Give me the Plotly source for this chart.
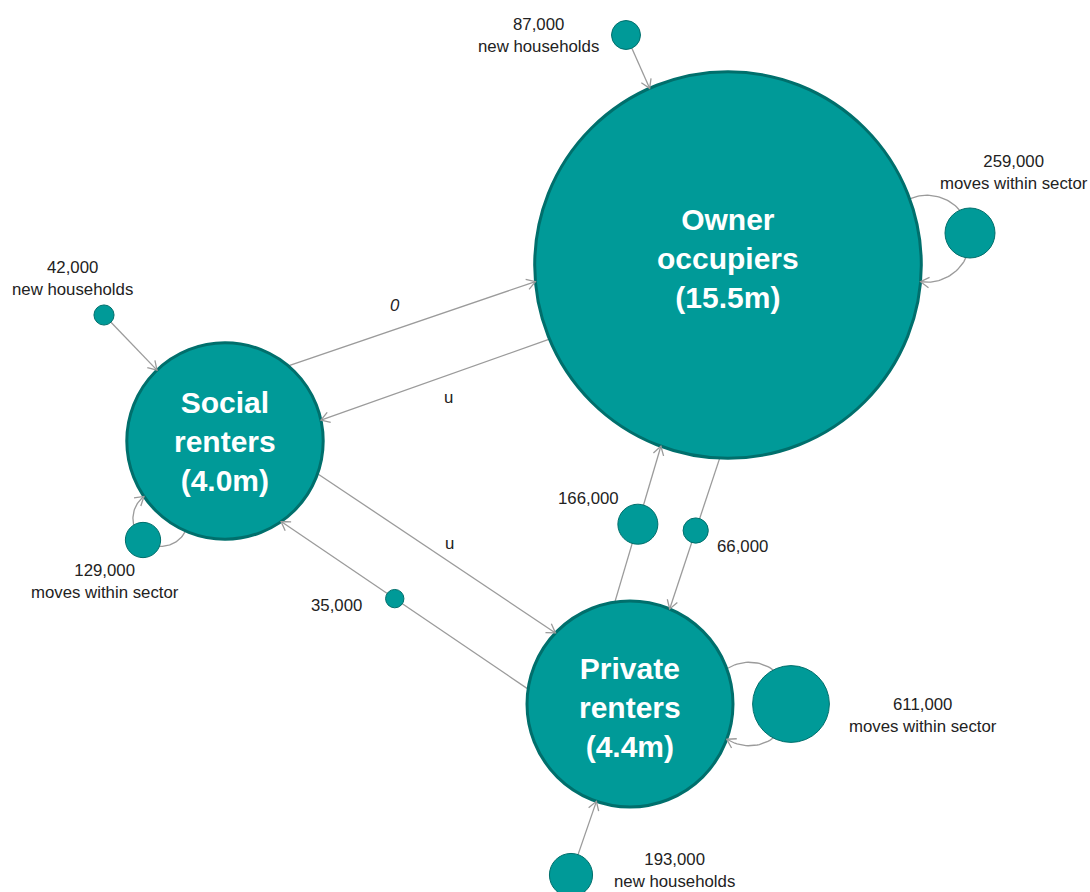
import numpy as np
import plotly.graph_objects as go

# ---------------- data ----------------
sectors = ["Owner occupiers", "Social renters", "Private renters"]
sector_names = ["Owner<br>occupiers", "Social<br>renters", "Private<br>renters"]
households_m = [15.5, 4.0, 4.4]            # households in each sector (millions)
new_households = [87000, 42000, 193000]     # new households entering each sector
moves_within = [259000, 129000, 611000]     # moves within each sector

flow_from = ["Social renters", "Owner occupiers", "Social renters",
             "Private renters", "Private renters", "Owner occupiers"]
flow_to = ["Owner occupiers", "Social renters", "Private renters",
           "Social renters", "Owner occupiers", "Private renters"]
flow_values = [0, None, None, 35000, 166000, 66000]   # None = unreliable ("u")
flow_labels = ["0", "u", "u", "35,000", "166,000", "66,000"]

# ---------------- layout (positions / styles) ----------------
W, H = 1090, 892
K = 0.0491  # px radius per sqrt(household)
node_center = {"Owner occupiers": (728, 265), "Social renters": (225, 441),
               "Private renters": (630, 704)}
node_label_dy = {"Owner occupiers": -7, "Social renters": 0, "Private renters": 3}
new_center = [(626, 35), (104, 315), (571, 875)]
new_label_pos = [(538, 35), (72, 278), (674, 870)]
moves_center = [(970, 233), (143, 540), (791, 704)]
moves_label_pos = [(1014, 172), (105, 581), (923, 715)]
loop_delta = [12.5, 16, 20]  # degrees either side of loop direction
edge_offsets = [(-50, -48), (-11, -12), (-23, -19), (-43, -37), (-37, -26), (-34, -18)]
edge_t = [0.5, 0.5, 0.5, 0.54, 0.5, 0.48]
flow_label_pos = [(395, 305), (448, 397), (449, 543), (336, 605), (588, 498), (742, 546)]

TEAL = "#009a98"
TEAL_DARK = "#006f6c"
GREY = "#9b9b9b"
FONT = "Arial, Liberation Sans, sans-serif"
FS = 16.8

radius = {s: K * np.sqrt(v * 1e6) for s, v in zip(sectors, households_m)}


def r_of(v):
    return K * np.sqrt(v)


line_x, line_y = [], []
head_x, head_y = [], []


def add_line(pts):
    for p in pts:
        line_x.append(p[0]); line_y.append(p[1])
    line_x.append(None); line_y.append(None)


def add_head(tip, d, L=10, ang=32):
    d = np.array(d, float); d = d / np.linalg.norm(d)
    for sgn in (1, -1):
        a = np.radians(ang * sgn)
        rot = np.array([d[0] * np.cos(a) - d[1] * np.sin(a), d[0] * np.sin(a) + d[1] * np.cos(a)])
        w = np.array(tip) - L * rot
        head_x.extend([w[0], tip[0]]); head_y.extend([w[1], tip[1]])
    head_x.append(None); head_y.append(None)


# cross-sector flows
flow_pts = []
for f, t, (os_, oe), tt in zip(flow_from, flow_to, edge_offsets, edge_t):
    c1 = np.array(node_center[f], float); c2 = np.array(node_center[t], float)
    u = (c2 - c1) / np.linalg.norm(c2 - c1)
    n = np.array([-u[1], u[0]])
    p1 = c1 + n * os_ + u * np.sqrt(radius[f] ** 2 - os_ ** 2)
    p2 = c2 + n * oe - u * np.sqrt(radius[t] ** 2 - oe ** 2)
    add_line([p1, p2])
    add_head(p2, p2 - p1)
    flow_pts.append(p1 + (p2 - p1) * tt)

# new households arrows
for s, c, v in zip(sectors, new_center, new_households):
    c1 = np.array(c, float); c2 = np.array(node_center[s], float)
    u = (c2 - c1) / np.linalg.norm(c2 - c1)
    p1 = c1 + u * r_of(v)
    p2 = c2 - u * radius[s]
    add_line([p1, p2])
    add_head(p2, u)

# self loops (circular arc through start, small circle centre, end)
for s, c, dl in zip(sectors, moves_center, loop_delta):
    C = np.array(node_center[s], float); P = np.array(c, float)
    th = np.arctan2(P[1] - C[1], P[0] - C[0])
    S = C + radius[s] * np.array([np.cos(th - np.radians(dl)), np.sin(th - np.radians(dl))])
    E = C + radius[s] * np.array([np.cos(th + np.radians(dl)), np.sin(th + np.radians(dl))])
    A = np.array([[2 * (P[0] - S[0]), 2 * (P[1] - S[1])], [2 * (E[0] - S[0]), 2 * (E[1] - S[1])]])
    b = np.array([P @ P - S @ S, E @ E - S @ S])
    O = np.linalg.solve(A, b)
    R = np.linalg.norm(S - O)
    aS = np.arctan2(S[1] - O[1], S[0] - O[0])
    aP = np.arctan2(P[1] - O[1], P[0] - O[0])
    aE = np.arctan2(E[1] - O[1], E[0] - O[0])
    ccw_E = (aE - aS) % (2 * np.pi); ccw_P = (aP - aS) % (2 * np.pi)
    if ccw_P < ccw_E:
        angs = aS + np.linspace(0, ccw_E, 80)
    else:
        angs = aS - np.linspace(0, 2 * np.pi - ccw_E, 80)
    pts = [O + R * np.array([np.cos(a), np.sin(a)]) for a in angs]
    add_line(pts)
    add_head(pts[-1], pts[-1] - pts[-3])

fig = go.Figure()
fig.add_trace(go.Scatter(x=line_x, y=line_y, mode="lines",
                         line=dict(color=GREY, width=1.3), hoverinfo="skip"))

# small circles
sx, sy, ss = [], [], []
for c, v in zip(new_center, new_households):
    sx.append(c[0]); sy.append(c[1]); ss.append(2 * r_of(v))
for c, v in zip(moves_center, moves_within):
    sx.append(c[0]); sy.append(c[1]); ss.append(2 * r_of(v))
for p, v in zip(flow_pts, flow_values):
    if v:
        sx.append(p[0]); sy.append(p[1]); ss.append(2 * r_of(v))
fig.add_trace(go.Scatter(x=sx, y=sy, mode="markers", hoverinfo="skip",
                         marker=dict(size=ss, color=TEAL, opacity=1,
                                     line=dict(color=TEAL_DARK, width=1))))

# big circles
fig.add_trace(go.Scatter(x=[node_center[s][0] for s in sectors],
                         y=[node_center[s][1] for s in sectors], mode="markers", hoverinfo="skip",
                         marker=dict(size=[2 * radius[s] for s in sectors], color=TEAL, opacity=1,
                                     line=dict(color=TEAL_DARK, width=3))))

fig.add_trace(go.Scatter(x=head_x, y=head_y, mode="lines",
                         line=dict(color=GREY, width=1.3), hoverinfo="skip"))

ann = []
for s, nm, hm in zip(sectors, sector_names, households_m):
    ann.append(dict(x=node_center[s][0], y=node_center[s][1] + node_label_dy[s],
                    text=f"<b>{nm}<br>({hm:.1f}m)</b>", showarrow=False,
                    font=dict(family=FONT, size=30, color="white")))
for p, v in zip(new_label_pos, new_households):
    ann.append(dict(x=p[0], y=p[1], text=f"{v:,}<br>new households", showarrow=False,
                    font=dict(family=FONT, size=FS, color="#222222")))
for p, v in zip(moves_label_pos, moves_within):
    ann.append(dict(x=p[0], y=p[1], text=f"{v:,}<br>moves within sector", showarrow=False,
                    font=dict(family=FONT, size=FS, color="#222222")))
for p, lab, v in zip(flow_label_pos, flow_labels, flow_values):
    txt = f"<i>{lab}</i>" if v == 0 else lab
    ann.append(dict(x=p[0], y=p[1], text=txt, showarrow=False,
                    font=dict(family=FONT, size=FS, color="#222222")))

fig.update_layout(
    width=W, height=H, margin=dict(l=0, r=0, t=0, b=0),
    paper_bgcolor="white", plot_bgcolor="white", showlegend=False,
    xaxis=dict(range=[0, W], visible=False, fixedrange=True),
    yaxis=dict(range=[H, 0], visible=False, fixedrange=True),
    annotations=ann, hovermode=False,
)
fig.write_html("out.html", config={"displayModeBar": False},
               post_script="document.body.style.margin='0';")
